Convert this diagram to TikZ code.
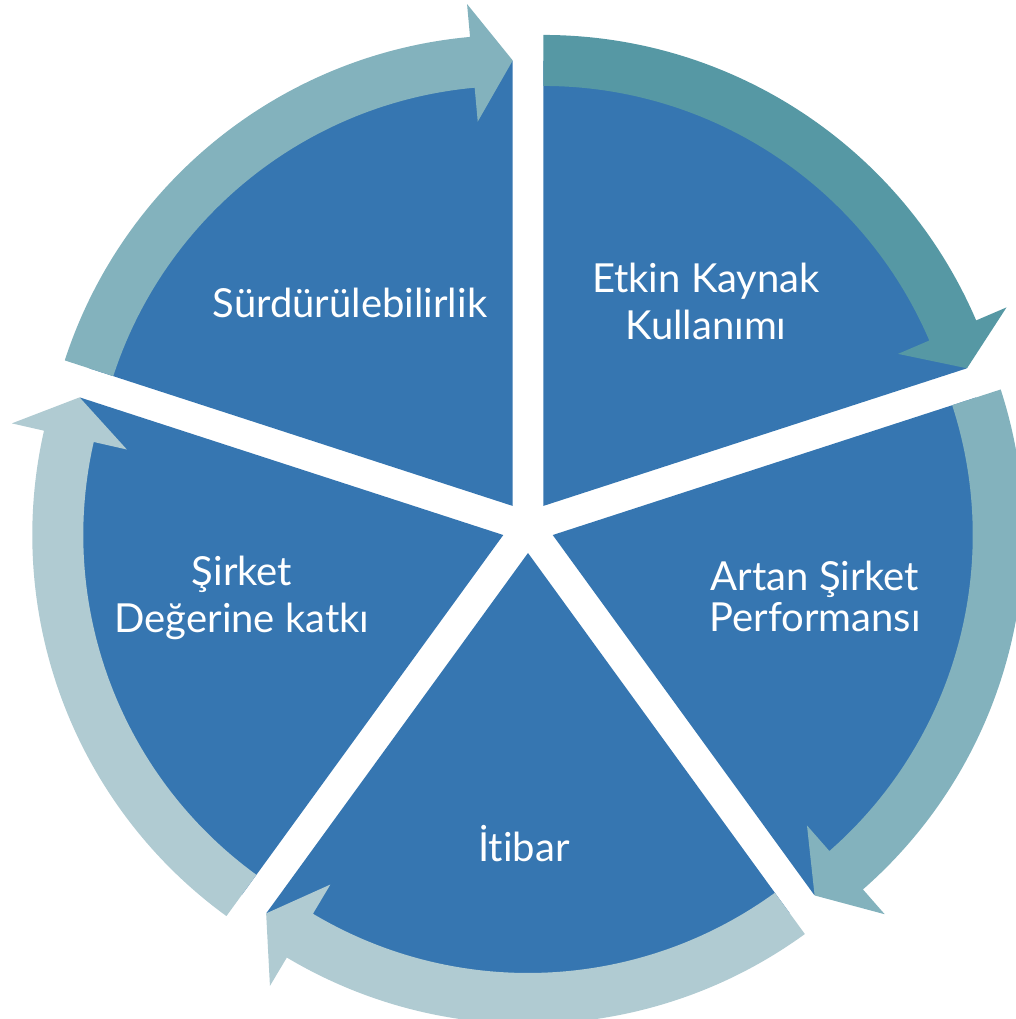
\documentclass[tikz,border=0pt]{standalone}
\usepackage{fontspec}
\setmainfont{Lato}[Ligatures=NoCommon]
\usetikzlibrary{calc}
\definecolor{pieblue}{RGB}{54,118,177}
\definecolor{arrowdark}{RGB}{86,152,164}
\definecolor{arrowmed}{RGB}{131,178,189}
\definecolor{arrowlight}{RGB}{176,203,210}
\begin{document}
\begin{tikzpicture}[x=1pt,y=1pt,
  wedge/.style={fill=pieblue},
  txt/.style={text=white, font=\fontsize{40}{47}\selectfont, align=center, anchor=base, inner sep=0pt}]
\useasboundingbox (0,0) rectangle (1016,1019);
\coordinate (C) at (528,492);
% pie wedges (exploded)
\foreach \b/\s/\e in {126/162/90, 54/90/18, -18/18/-54, -90/-54/-126, 198/234/162}{
  \begin{scope}[shift={($(C)+(\b:26)$)}]
    \fill[wedge] (0,0) -- (\s:445) arc[start angle=\s, end angle=\e, radius=445] -- cycle;
  \end{scope}
}
% circular arrows
\foreach \b/\s/\e/\c in {126/162/90/arrowmed, 54/90/18/arrowdark, -18/18/-54/arrowmed, -90/-54/-126/arrowlight, 198/234/162/arrowlight}{
  \pgfmathsetmacro\n{\e+5.2}
  \begin{scope}[shift={($(C)+(\b:26)$)}]
    \fill[\c] (\s:471) arc[start angle=\s, end angle=\n, radius=471] -- (\n:504) -- (\e:445.5) -- (\n:386) -- (\n:420) arc[start angle=\n, end angle=\s, radius=420] -- cycle;
  \end{scope}
}
% labels (base anchor = baseline of last line)
\node[txt] (t1) at (350,701) {Sürdürülebilirlik};
\node[txt] (t2) at (706,679) {Etkin Kaynak\\Kullanımı};
\node[txt, font=\fontsize{40}{41}\selectfont] (t3) at (815,387) {Artan Şirket\\Performansı};
\node[txt] (t4) at (524,157) {İtibar};
\node[txt] (t5) at (242,386) {Şirket\\Değerine katkı};
\end{tikzpicture}
\end{document}
